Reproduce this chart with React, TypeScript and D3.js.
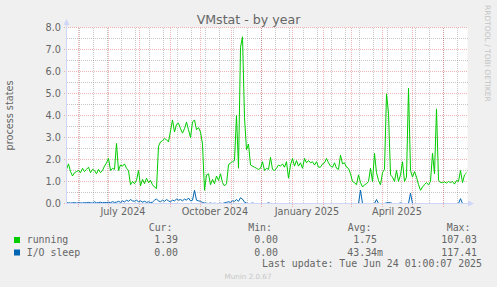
import React from 'react';
import * as d3 from 'd3';

const START = Date.UTC(2024, 4, 20, 1, 0, 0);
const END = Date.UTC(2025, 5, 24, 1, 0, 0);
const DAY = 86400000;
const STEP_DAYS = 2;

const running = [
  1.55, 1.8, 1.45, 1.25, 1.4, 1.45, 1.5, 1.4, 1.6, 1.45,
  1.55, 1.65, 1.4, 1.55, 1.5, 1.35, 1.55, 1.4, 1.5, 1.7,
  1.85, 2.05, 1.5, 1.6, 1.55, 2.73, 1.5, 1.75, 1.7, 1.8,
  1.6, 1.5, 0.85, 1.0, 0.9, 1.05, 1.5, 0.8, 1.1, 0.9,
  1.15, 0.95, 1.05, 0.85, 0.75, 0.68, 2.6, 2.8, 2.85, 2.95,
  2.9, 2.8, 3.3, 3.8, 3.25, 3.6, 3.65, 3.4, 3.2, 3.4,
  3.7, 3.35, 3.0, 3.7, 3.8, 3.35, 3.45, 3.25, 2.7, 0.6,
  1.3, 1.35, 0.85, 1.1, 0.9, 1.25, 1.05, 1.35, 0.95, 0.8,
  0.9, 1.75, 1.85, 1.9, 1.95, 4.0, 1.6, 7.1, 7.58, 3.9,
  2.45, 2.7, 1.75, 1.7, 1.65, 1.6, 1.55, 1.6, 1.9, 1.5,
  1.6, 1.55, 2.1, 1.55, 1.5, 1.6, 1.75, 1.7, 1.8, 1.65,
  1.9, 1.15, 1.75, 2.05, 1.7, 1.95, 1.7, 1.85, 1.6, 2.05,
  1.85, 1.95, 1.85, 1.9, 1.75, 1.9, 1.65, 1.65, 1.8, 1.85,
  2.05, 1.85, 1.7, 1.65, 1.85, 1.6, 1.55, 2.2, 1.8, 1.85,
  1.65, 1.6, 1.35, 1.0, 0.95, 0.85, 1.3, 0.95, 0.75, 0.85,
  0.9, 1.0, 1.6, 1.0, 2.28, 1.4, 1.05, 0.85, 1.4, 1.55,
  4.98, 4.1, 1.3, 1.2, 1.0, 1.5, 1.0, 1.3, 1.9, 1.0,
  1.2, 5.24, 1.5, 1.2, 1.45, 1.2, 0.86, 0.6, 0.75, 0.86,
  0.95, 0.85, 1.0, 2.28, 1.35, 4.3, 1.06, 0.95, 0.95, 0.98,
  0.93, 1.0, 0.95, 1.0, 0.88, 1.05, 1.0, 1.5, 0.95, 1.3,
  1.39,
];

const ioSleep = [
  0.03, 0.03, 0.02, 0.03, 0.04, 0.02, 0.03, 0.03, 0.02, 0.04,
  0.03, 0.05, 0.03, 0.02, 0.08, 0.03, 0.04, 0.06, 0.03, 0.05,
  0.04, 0.06, 0.04, 0.08, 0.05, 0.06, 0.1, 0.05, 0.12, 0.07,
  0.15, 0.1, 0.18, 0.12, 0.1, 0.15, 0.08, 0.12, 0.06, 0.1,
  0.05, 0.08, 0.04, 0.06, 0.15, 0.2, 0.12, 0.08, 0.15, 0.1,
  0.18, 0.12, 0.08, 0.15, 0.12, 0.2, 0.15, 0.18, 0.12, 0.2,
  0.15, 0.25, 0.12, 0.15, 0.6, 0.15, 0.12, 0.1, 0.05, 0.02,
  0.01, 0.0, 0.02, 0.0, 0.01, 0.0, 0.0, 0.01, 0.0, 0.03,
  0.05, 0.08, 0.05, 0.12, 0.1, 0.18, 0.1, 0.26, 0.2, 0.06,
  0.02, 0.0, 0.0, 0.02, 0.0, 0.0, 0.0, 0.0, 0.0, 0.0,
  0.0, 0.03, 0.0, 0.0, 0.0, 0.0, 0.0, 0.0, 0.0, 0.0,
  0.0, 0.0, 0.0, 0.0, 0.0, 0.0, 0.0, 0.0, 0.0, 0.0,
  0.0, 0.0, 0.0, 0.0, 0.0, 0.0, 0.0, 0.0, 0.0, 0.0,
  0.0, 0.0, 0.0, 0.0, 0.0, 0.0, 0.0, 0.0, 0.0, 0.0,
  0.0, 0.0, 0.0, 0.0, 0.0, 0.0, 0.0, 0.6, 0.0, 0.0,
  0.0, 0.0, 0.0, 0.0, 0.0, 0.18, 0.0, 0.0, 0.0, 0.0,
  0.03, 0.04, 0.03, 0.0, 0.0, 0.0, 0.0, 0.02, 0.0, 0.0,
  0.0, 0.0, 0.47, 0.0, 0.0, 0.0, 0.0, 0.0, 0.0, 0.0,
  0.0, 0.0, 0.0, 0.0, 0.0, 0.0, 0.0, 0.0, 0.0, 0.0,
  0.0, 0.0, 0.0, 0.0, 0.0, 0.0, 0.0, 0.22, 0.0, 0.0,
  0.0,
];

const yTicks = [0, 1, 2, 3, 4, 5, 6, 7, 8];
const labelMonths = ['2024-07-01', '2024-10-01', '2025-01-01', '2025-04-01'];
const labelTexts = ['July 2024', 'October 2024', 'January 2025', 'April 2025'];
const minorAnchor = '2024-06-16';

const seriesNames = ['running', 'I/O sleep'];
const seriesColors = ['#00CC00', '#0066B3'];
const curVals = ['1.39', '0.00'];
const minVals = ['0.00', '0.00'];
const avgVals = ['1.75', '43.34m'];
const maxVals = ['107.03', '117.41'];

const W = 497;
const H = 287;
const FONT = 'DejaVu Sans, sans-serif';
const MONO = 'DejaVu Sans Mono, monospace';
const FC = '#666666';
const MINOR_C = 'rgba(143,143,143,0.5)';
const MAJOR_C = 'rgba(222,79,79,0.42)';

export default function App() {
  const x = d3.scaleLinear().domain([START, END]).range([66.5, 466.5]);
  const y = d3.scaleLinear().domain([0, 8]).range([203.5, 27.5]);
  const px = (t: number) => Math.floor(x(t)) + 0.5;

  const months = d3.utcMonth.range(new Date(START), new Date(END)).map((d) => d.getTime());
  const minor: number[] = [];
  const anchor = Date.parse(minorAnchor + 'T00:00:00Z');
  for (let t = anchor - 14 * DAY * 10; t < END; t += 14 * DAY) {
    if (t > START) minor.push(t);
  }
  const halfTicks = d3.range(0.5, 8, 1);

  const line = d3
    .line<number>()
    .x((_, i) => x(START + i * STEP_DAYS * DAY))
    .y((v) => y(v));

  const rowY = [243, 255.5];
  return (
    <svg width={W} height={H} style={{ display: 'block', position: 'absolute', left: 0, top: 0 }}>
      <rect x={0} y={0} width={W} height={H} fill="#F0F0F0" />
      <rect x={66.5} y={27.5} width={401} height={176} fill="#FFFFFF" />
      <g shapeRendering="crispEdges">
        {halfTicks.map((v) => (
          <line key={'hm' + v} x1={66.5} x2={467.5} y1={y(v)} y2={y(v)} stroke={MINOR_C} strokeDasharray="1,1" />
        ))}
        {minor.map((t) => (
          <line key={'vm' + t} x1={px(t)} x2={px(t)} y1={27.5} y2={203.5} stroke={MINOR_C} strokeDasharray="1,1" />
        ))}
        {yTicks.map((v) => (
          <line key={'hM' + v} x1={63.5} x2={467.5} y1={y(v)} y2={y(v)} stroke={MAJOR_C} strokeDasharray="1,1" />
        ))}
        {months.map((t) => (
          <line key={'vM' + t} x1={px(t)} x2={px(t)} y1={27.5} y2={206.5} stroke={MAJOR_C} strokeDasharray="1,1" />
        ))}
      </g>
      {yTicks.map((v) => (
        <text key={'yt' + v} x={61} y={y(v) + 3.5} fontFamily={FONT} fontSize={9.7} fill={FC} textAnchor="end">
          {v.toFixed(1)}
        </text>
      ))}
      {labelMonths.map((m, i) => (
        <text
          key={m}
          x={x(Date.parse(m + 'T00:00:00Z')) + 14.5}
          y={215}
          fontFamily={FONT}
          fontSize={9.7}
          fill={FC}
          textAnchor="middle"
        >
          {labelTexts[i]}
        </text>
      ))}
      <path d={line(running) || ''} fill="none" stroke={seriesColors[0]} strokeWidth={1} />
      <path d={line(ioSleep) || ''} fill="none" stroke={seriesColors[1]} strokeWidth={1} />
      <line x1={66.5} x2={66.5} y1={24} y2={203.5} stroke="#CFD6F8" shapeRendering="crispEdges" />
      <line x1={66.5} x2={469} y1={203.5} y2={203.5} stroke="#CFD6F8" shapeRendering="crispEdges" />
      <polygon points="63.5,25 69.5,25 66.5,19" fill="#CFD6F8" />
      <polygon points="468,200.5 468,206.5 474,203.5" fill="#CFD6F8" />
      <text x={248.5} y={23.5} fontFamily={FONT} fontSize={12.6} fill={FC} textAnchor="middle">
        VMstat - by year
      </text>
      <text
        transform="translate(12.7,115.5) rotate(-90)"
        fontFamily={FONT}
        fontSize={9.7}
        fill={FC}
        textAnchor="middle"
      >
        process states
      </text>
      <text
        transform="translate(485,5) rotate(90)"
        fontFamily={FONT}
        fontSize={7.5}
        fill="#C4C4C4"
        textAnchor="start"
      >
        RRDTOOL / TOBI OETIKER
      </text>
      <g fontFamily={MONO} fontSize={9.9} fill={FC}>
        <text x={172.5} y={231} textAnchor="end">Cur:</text>
        <text x={272} y={231} textAnchor="end">Min:</text>
        <text x={371.5} y={231} textAnchor="end">Avg:</text>
        <text x={470.5} y={231} textAnchor="end">Max:</text>
        {seriesNames.map((n, i) => (
          <g key={n}>
            <rect x={14} y={rowY[i] - 6} width={6} height={6} fill={seriesColors[i]} />
            <text x={26.7} y={rowY[i]} style={{ whiteSpace: 'pre' }}>{n}</text>
            <text x={178} y={rowY[i]} textAnchor="end">{curVals[i]}</text>
            <text x={278} y={rowY[i]} textAnchor="end">{minVals[i]}</text>
            <text x={avgVals[i].endsWith('m') ? 383 : 377} y={rowY[i]} textAnchor="end">{avgVals[i]}</text>
            <text x={477} y={rowY[i]} textAnchor="end">{maxVals[i]}</text>
          </g>
        ))}
        <text x={482} y={267} textAnchor="end" style={{ whiteSpace: 'pre' }}>
          Last update: Tue Jun 24 01:00:07 2025
        </text>
      </g>
      <text x={248} y={279} fontFamily={FONT} fontSize={7.2} fill="#C8C8C8" textAnchor="middle">
        Munin 2.0.67
      </text>
    </svg>
  );
}
